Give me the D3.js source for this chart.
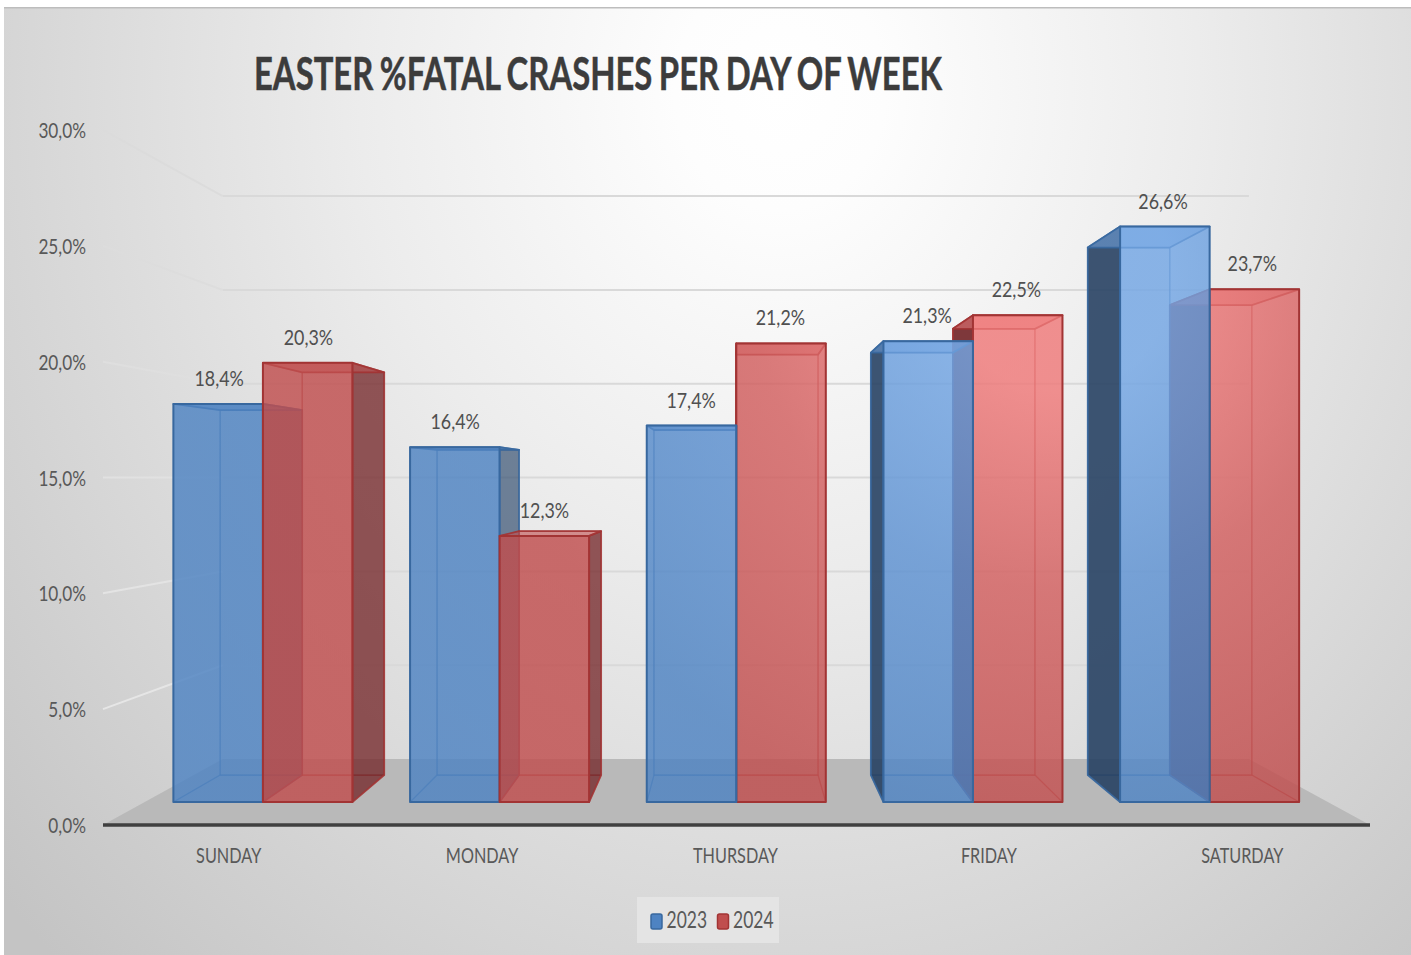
<!DOCTYPE html>
<html>
<head>
<meta charset="utf-8">
<style>html,body{margin:0;padding:0;background:#fff}svg{display:block}text{font-family:Lato,"Open Sans",sans-serif}</style>
<script src="https://cdn.jsdelivr.net/npm/d3@7"></script>
</head>
<body>
<div id="chart"></div>
<script>
const categories = ["SUNDAY", "MONDAY", "THURSDAY", "FRIDAY", "SATURDAY"];
const seriesNames = ["2023", "2024"];
const values2023 = [18.4, 16.4, 17.4, 21.3, 26.6];
const values2024 = [20.3, 12.3, 21.2, 22.5, 23.7];
const yTicks = [0, 5, 10, 15, 20, 25, 30];
const chartTitle = "EASTER %FATAL CRASHES PER DAY OF WEEK";

const W = 1411, H = 955;
const svg = d3.select("#chart").append("svg").attr("width", W).attr("height", H);
const defs = svg.append("defs");

// perspective camera
const vx = 733, vy = 478, axisY = 825;
const left = 103 - vx, right = 1370 - vx;
const sWall = 0.81, sFront = 0.934, sBack = 0.856;
const x0 = d3.scaleBand().domain(categories).range([left, right]).paddingInner(0.2435).paddingOuter(0.12175);
const x1 = d3.scaleBand().domain(seriesNames).range([0, x0.bandwidth()]);
const y = d3.scaleLinear().domain([0, 30]).range([0, 695]);
const P = (wx, h, s) => [vx + wx * s, vy + (axisY - vy) * s - h * s];
const poly = pts => pts.map(p => p.join(",")).join(" ");
const fmt = v => d3.format(".1f")(v).replace(".", ",");

// gradients
const bg = defs.append("radialGradient").attr("id", "bg").attr("gradientUnits", "userSpaceOnUse")
  .attr("cx", 0).attr("cy", 0).attr("r", 1).attr("gradientTransform", "translate(780,90) scale(1050,1200)");
[[0, "#ffffff"], [0.1, "#fdfdfd"], [0.4, "#ececec"], [0.7, "#d8d8d8"], [1, "#c4c4c4"]]
  .forEach(d => bg.append("stop").attr("offset", d[0]).attr("stop-color", d[1]));
const faceColors = {
  "2023": {base: "#4e83c2", mid: "#5e92d2", light: "#73a6e4", edge: "#38689f", dark: "#243f60"},
  "2024": {base: "#c04e4e", mid: "#d25f5f", light: "#ef7979", edge: "#a23434", dark: "#6d2023"}
};
seriesNames.forEach(n => {
  const g = defs.append("radialGradient").attr("id", "face" + n).attr("gradientUnits", "userSpaceOnUse")
    .attr("cx", 1060).attr("cy", 280).attr("r", 560);
  g.append("stop").attr("offset", 0.2).attr("stop-color", faceColors[n].light);
  g.append("stop").attr("offset", 0.55).attr("stop-color", faceColors[n].mid);
  g.append("stop").attr("offset", 1).attr("stop-color", faceColors[n].base);
});
const wallLine = defs.append("linearGradient").attr("id", "wallLine").attr("gradientUnits", "userSpaceOnUse")
  .attr("x1", 0).attr("y1", 130).attr("x2", 0).attr("y2", 710);
wallLine.append("stop").attr("offset", 0).attr("stop-color", "#dbdbdb");
wallLine.append("stop").attr("offset", 0.3).attr("stop-color", "#dddddd");
wallLine.append("stop").attr("offset", 1).attr("stop-color", "#e6e6e6");

svg.append("rect").attr("x", 4).attr("y", 7).attr("width", W - 4).attr("height", H - 7).attr("fill", "url(#bg)");
svg.append("rect").attr("x", 4).attr("y", 7).attr("width", W - 4).attr("height", 1.5).attr("fill", "#bdbdbd");

// condensed text helper
function label(parent, str, x, yy, size, anchor, color, squeeze, weight) {
  const t = parent.append("text").attr("x", x).attr("y", yy).attr("font-size", size)
    .attr("text-anchor", anchor).attr("fill", color).attr("font-weight", weight || 400).text(str);
  const len = t.node().getComputedTextLength();
  t.attr("textLength", len * squeeze).attr("lengthAdjust", "spacingAndGlyphs");
  return t;
}

// title
label(svg, chartTitle, 254, 90, 46, "start", "#3c3c3c", 1, 700)
  .attr("textLength", 688).attr("word-spacing", -2).attr("stroke", "#3c3c3c").attr("stroke-width", 0.5);

// floor
const floorG = svg.append("g");
floorG.append("polygon").attr("fill", "#b9b9b9")
  .attr("points", poly([P(left, 0, 1), P(right, 0, 1), P(right, 0, sWall), P(left, 0, sWall)]));

// grid: back wall and left wall
const grid = svg.append("g").attr("fill", "none");
yTicks.filter(v => v > 0).forEach(v => {
  const a = P(left, y(v), 1), b = P(left, y(v), sWall), c = P(right, y(v), sWall);
  grid.append("line").attr("x1", b[0]).attr("y1", b[1]).attr("x2", c[0]).attr("y2", c[1])
    .attr("stroke", "#d9d9d9").attr("stroke-width", 2);
  grid.append("line").attr("x1", a[0]).attr("y1", a[1]).attr("x2", b[0]).attr("y2", b[1])
    .attr("stroke", "url(#wallLine)").attr("stroke-width", 2);
});

// bars: paint from the outside toward the camera axis
const bars = [];
categories.forEach((c, i) => {
  bars.push({cat: c, series: "2023", value: values2023[i]});
  bars.push({cat: c, series: "2024", value: values2024[i]});
});
bars.forEach(d => {
  d.x0 = x0(d.cat) + x1(d.series);
  d.x1 = d.x0 + x1.bandwidth();
  d.mid = Math.abs((d.x0 + d.x1) / 2);
});
const barsG = svg.append("g");
bars.slice().sort((a, b) => b.mid - a.mid).forEach(d => {
  const col = faceColors[d.series], h = y(d.value);
  const F = (x, hh) => P(x, hh, sFront), B = (x, hh) => P(x, hh, sBack);
  const g = barsG.append("g").attr("stroke", col.edge).attr("stroke-linejoin", "round");
  const face = (pts, fill, op, sw, so) => g.append("polygon").attr("points", poly(pts))
    .attr("fill", fill).attr("fill-opacity", op).attr("stroke-width", sw).attr("stroke-opacity", so);
  const url = `url(#face${d.series})`;
  // back, floor
  face([B(d.x0, 0), B(d.x1, 0), B(d.x1, h), B(d.x0, h)], url, 0.12, 1.2, 0.6);
  face([F(d.x0, 0), F(d.x1, 0), B(d.x1, 0), B(d.x0, 0)], url, 0.12, 1.2, 0.5);
  // side faces: the one turned to the camera is dark, the other faint
  const nearRight = (d.x0 + d.x1) / 2 < 0;
  const sideL = [F(d.x0, 0), B(d.x0, 0), B(d.x0, h), F(d.x0, h)];
  const sideR = [F(d.x1, 0), B(d.x1, 0), B(d.x1, h), F(d.x1, h)];
  if (nearRight) {
    face(sideL, url, 0.1, 1.2, 0.35);
    face(sideR, col.dark, d.series === "2023" ? 0.6 : 0.72, 1.8, 0.8);
  } else {
    face(sideR, url, 0.1, 1.2, 0.35);
    face(sideL, col.dark, 0.88, 1.8, 0.9);
  }
  // top
  face([F(d.x0, h), F(d.x1, h), B(d.x1, h), B(d.x0, h)], url, 0.55, 1.8, 0.9);
  // front
  face([F(d.x0, 0), F(d.x1, 0), F(d.x1, h), F(d.x0, h)], url, 0.8, 2, 1);
});

// category axis line
const a0 = P(left, 0, 1), a1 = P(right, 0, 1);
svg.append("line").attr("x1", a0[0]).attr("y1", a0[1]).attr("x2", a1[0]).attr("y2", a1[1])
  .attr("stroke", "#404040").attr("stroke-width", 3.4);

// y labels
yTicks.forEach(v => {
  const p = P(left, y(v), 1);
  label(svg, fmt(v) + "%", 86, p[1] + 8, 21.5, "end", "#595959", 0.8);
});
// category labels
categories.forEach(c => {
  const p = P(x0(c) + x0.bandwidth() / 2, 0, 1);
  label(svg, c, p[0] - 1, 863, 21.5, "middle", "#595959", 0.755);
});
// data labels
bars.forEach(d => {
  const p = P((d.x0 + d.x1) / 2, y(d.value), sFront);
  label(svg, fmt(d.value) + "%", p[0] - 0.5 - 0.003 * (p[0] - vx), p[1] - 18, 21.5, "middle", "#505050", 0.83);
});

// legend
const leg = svg.append("g");
leg.append("rect").attr("x", 637).attr("y", 897).attr("width", 142).attr("height", 46).attr("fill", "#e4e4e4");
const legendX = d3.scalePoint().domain(seriesNames).range([651, 717.5]);
seriesNames.forEach(n => {
  leg.append("rect").attr("x", legendX(n)).attr("y", 914).attr("width", 11).attr("height", 15).attr("rx", 2)
    .attr("fill", faceColors[n].base).attr("stroke", faceColors[n].edge).attr("stroke-width", 1.5);
  label(leg, n, legendX(n) + 15.5, 928, 23, "start", "#595959", 0.76);
});
</script>
</body>
</html>
